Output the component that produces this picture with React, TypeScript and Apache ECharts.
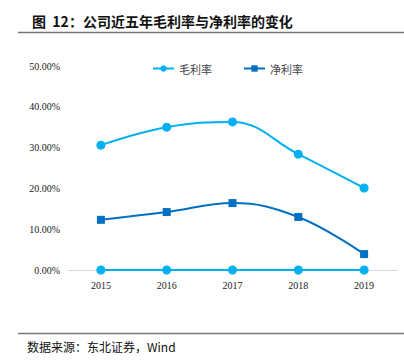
import React, { useEffect, useRef } from "react";
import * as echarts from "echarts";

const years = ["2015", "2016", "2017", "2018", "2019"];
const grossMargin = [0.306, 0.35, 0.363, 0.284, 0.201];
const netMargin = [0.123, 0.142, 0.164, 0.13, 0.039];
const zeroLine = [0, 0, 0, 0, 0];
const yTicks = [0, 0.1, 0.2, 0.3, 0.4, 0.5];

export default function App() {
  const ref = useRef<HTMLDivElement>(null);
  useEffect(() => {
    document.body.style.margin = "0";
    const chart = echarts.init(ref.current!, null, { renderer: "svg" });
    chart.setOption({
      animation: false,
      backgroundColor: "#ffffff",
      title: {
        text: "图  12：公司近五年毛利率与净利率的变化",
        left: 27,
        top: 9,
        textStyle: {
          fontFamily: "Noto Sans CJK SC",
          fontSize: 14,
          fontWeight: "bold",
          color: "#111",
        },
      },
      graphic: [
        { type: "line", shape: { x1: 18, y1: 32.5, x2: 404, y2: 32.5 }, style: { stroke: "#777", lineWidth: 1.5 } },
        { type: "line", shape: { x1: 18, y1: 333.5, x2: 404, y2: 333.5 }, style: { stroke: "#777", lineWidth: 1.5 } },
        {
          type: "text",
          left: 27,
          top: 340,
          style: {
            text: "数据来源：东北证券，Wind",
            font: "12px 'Noto Sans CJK SC', 'Liberation Serif'",
            fill: "#111",
          },
        },
      ],
      legend: {
        data: [
          { name: "毛利率" },
          { name: "净利率" },
        ],
        top: 58,
        left: 147,
        itemWidth: 21,
        itemHeight: 8,
        itemGap: 31,
        textStyle: { fontFamily: "Noto Sans CJK SC", fontSize: 11, color: "#444" },
      },
      grid: { left: 68, right: 7, top: 66, bottom: 93 },
      xAxis: {
        type: "category",
        data: years,
        boundaryGap: true,
        axisLine: { lineStyle: { color: "#d9d9d9" } },
        axisTick: { show: false },
        axisLabel: { fontFamily: "Liberation Serif", fontSize: 10, color: "#222", margin: 10 },
      },
      yAxis: {
        type: "value",
        min: yTicks[0],
        max: yTicks[yTicks.length - 1],
        interval: 0.1,
        splitLine: { show: false },
        axisLine: { show: false },
        axisTick: { show: false },
        axisLabel: {
          fontFamily: "Liberation Serif",
          fontSize: 10,
          color: "#222",
          margin: 8,
          formatter: (v: number) => (v * 100).toFixed(2) + "%",
        },
      },
      series: [
        {
          name: "zero",
          type: "line",
          data: zeroLine,
          symbol: "circle",
          symbolSize: 9,
          itemStyle: { color: "#00B0F0" },
          lineStyle: { color: "#00B0F0", width: 2 },
          z: 1,
        },
        {
          name: "毛利率",
          type: "line",
          data: grossMargin,
          smooth: 0.4,
          symbol: "circle",
          symbolSize: 9,
          itemStyle: { color: "#00B0F0" },
          lineStyle: { color: "#00B0F0", width: 2 },
        },
        {
          name: "净利率",
          type: "line",
          data: netMargin,
          smooth: 0.4,
          symbol: "rect",
          symbolSize: 8,
          itemStyle: { color: "#0070C0" },
          lineStyle: { color: "#0070C0", width: 2 },
        },
      ],
    });
    return () => chart.dispose();
  }, []);
  return <div ref={ref} style={{ width: 404, height: 363 }} />;
}
